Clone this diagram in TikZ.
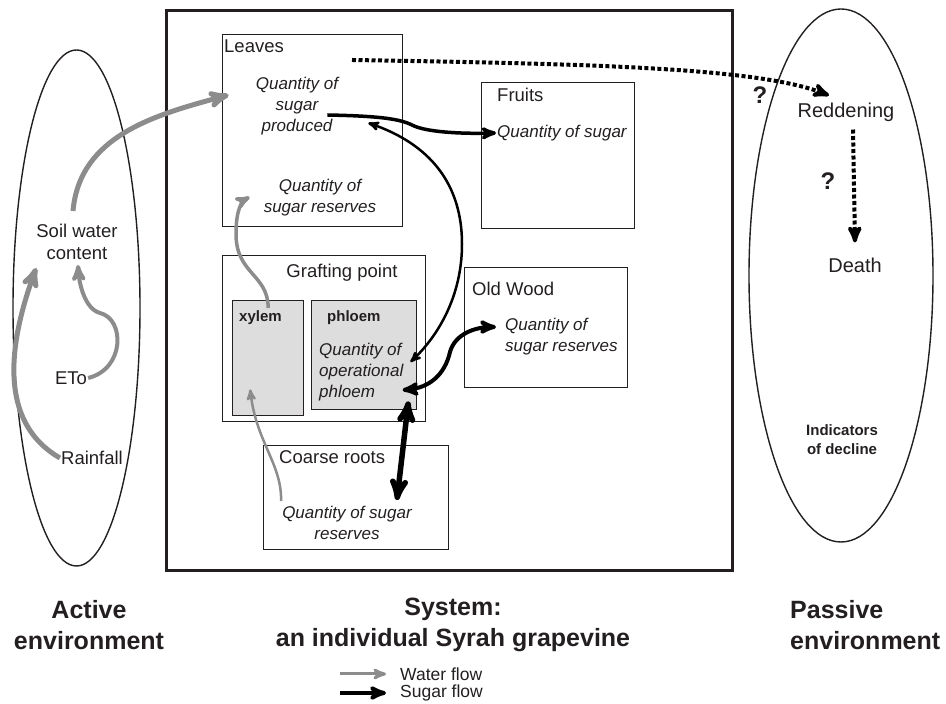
\documentclass[tikz,border=0pt]{standalone}
\usepackage{fontspec}
\setmainfont{Liberation Sans}
\usepackage{tikz}
\usetikzlibrary{ arrows, calc, positioning }
\definecolor{ink}{RGB}{35,31,32}
\definecolor{watergray}{RGB}{140,140,140}
\definecolor{tissuegray}{RGB}{221,221,221}
\tikzset{
>=stealth', % makes the arrow heads bold
box/.style={draw=ink, line width=1.4pt, inner sep=0pt, anchor=north west}, % compartments of the vine
envline/.style={draw=ink, line width=1.4pt}, % the two environments
plain/.style={font=\fontsize{18.5}{22}\selectfont, text=ink, inner sep=1pt, align=center},
qty/.style={font=\fontsize{17}{21}\selectfont\itshape, text=ink, inner sep=1pt},
tissue/.style={font=\fontsize{15}{18}\selectfont\bfseries, text=ink, inner sep=1pt},
heading/.style={font=\fontsize{25}{31}\selectfont\bfseries, text=ink, inner sep=1pt},
water/.style={->, draw=watergray, line width=#1},
sugar/.style={draw=black, line width=#1},
signal/.style={->, draw=black, line width=4pt, dash pattern=on 4pt off 2.5pt},
}

\begin{document}
\begin{tikzpicture}[x=1pt,y=1pt]
  \useasboundingbox (0,0) rectangle (946,704);

  % environments
  \draw[envline] (76.5,396) ellipse [x radius=63.5pt, y radius=258pt];
  \draw[envline] (841,428.5) ellipse [x radius=92pt, y radius=266.5pt];

  % the vine and its compartments
  \node[box, line width=3pt, minimum width=566pt, minimum height=560pt] (vine) at (165,695) {};
  \node[box, minimum width=180pt, minimum height=192pt] (leaves) at (222,670) {};
  \node[box, minimum width=153pt, minimum height=146pt] (fruits) at (481,622) {};
  \node[box, minimum width=203pt, minimum height=166pt] (graft) at (222,449) {};
  \node[box, fill=tissuegray, minimum width=71pt, minimum height=115pt] (xylembox) at (232,404) {};
  \node[box, fill=tissuegray, minimum width=105pt, minimum height=109pt] (phloembox) at (311,404) {};
  \node[box, minimum width=163pt, minimum height=120pt] (wood) at (464,437) {};
  \node[box, minimum width=185pt, minimum height=104pt] (roots) at (263,259) {};

  % texts inside the vine
  \node[plain, anchor=west] (leavestitle) at (223,658) {Leaves};
  \node[qty, align=center] (sugarprod) at (297,598) {Quantity of\\sugar\\produced};
  \node[qty, align=center] (leafres) at (320,506) {Quantity of\\sugar reserves};
  \node[plain, anchor=west] (fruitstitle) at (496,609) {Fruits};
  \node[qty, anchor=west] (fruitsugar) at (496,571) {Quantity of sugar};
  \node[plain] (grafttitle) at (342,431) {Grafting point};
  \node[tissue, anchor=west] (xylem) at (238,386) {xylem};
  \node[tissue, anchor=west] (phloem) at (326,386) {phloem};
  \node[qty, anchor=west, align=left] (operational) at (318,332) {Quantity of\\operational\\phloem};
  \node[plain, anchor=west] (woodtitle) at (471,415) {Old Wood};
  \node[qty, anchor=west, align=left] (woodres) at (504,367) {Quantity of\\sugar reserves};
  \node[plain, anchor=west] (rootstitle) at (278,247) {Coarse roots};
  \node[qty, align=center] (rootsres) at (347,181) {Quantity of sugar\\reserves};

  % active environment
  \node[plain] (soil) at (77,462) {Soil water\\content};
  \node[plain] (eto) at (71,326) {ETo};
  \node[plain] (rain) at (92,246) {Rainfall};

  % passive environment
  \node[plain, font=\fontsize{20}{24}\selectfont] (reddening) at (846,592) {Reddening};
  \node[plain, font=\fontsize{20}{24}\selectfont] (death) at (855,439) {Death};
  \node[heading, font=\fontsize{24}{28}\selectfont\bfseries] (q1) at (760,609) {?};
  \node[heading, font=\fontsize{24}{28}\selectfont\bfseries] (q2) at (828,523) {?};
  \node[tissue, align=center, font=\fontsize{15}{19}\selectfont\bfseries] (indicators) at (842,264) {Indicators\\of decline};

  % headings
  \node[heading, align=center] (active) at (89,79) {Active\\environment};
  \node[heading, align=center] (system) at (453,79) {System:\\an individual Syrah grapevine};
  \node[heading, align=left, anchor=west] (passive) at (789,79) {Passive\\environment};

  % water flows
  \draw[water=5pt] ([xshift=-4pt,yshift=12pt]soil.north) to[out=85,in=195] ([xshift=-26pt,yshift=11pt]sugarprod.west);
  \draw[water=5pt] (rain.west) to[out=150,in=-110] ([xshift=1pt,yshift=-7pt]soil.south west);
  \draw[water=4pt] (eto.east) .. controls (125,335) and (125,385) .. (100,391)
    .. controls (85,395) and (79,420) .. ([xshift=1pt,yshift=-4pt]soil.south);
  \draw[water=3.5pt] ([yshift=-8pt]xylembox.north) .. controls (268,430) and (236,430) .. (236,470)
    .. controls (236,495) and (242,503) .. ([xshift=-13pt,yshift=1pt]leafres.west);
  \draw[water=2.5pt] ([yshift=4pt]rootsres.north west) .. controls (282,240) and (256,262) .. ([xshift=-18pt,yshift=27pt]xylembox.south);

  % sugar flows
  \draw[sugar=3.5pt, ->] ([xshift=-12pt,yshift=-9pt]sugarprod.east) .. controls (380,588) and (400,585) .. (412,579)
    .. controls (425,572) and (460,570) .. (fruitsugar.west);
  \draw[sugar=2.5pt, <->] ([xshift=29pt,yshift=-17pt]sugarprod.east) .. controls (430,560) and (462,520) .. (462,460)
    .. controls (462,410) and (440,370) .. ([xshift=6pt,yshift=10pt]operational.east);
  \draw[sugar=4pt, <->] ([xshift=-2pt,yshift=-18pt]operational.east) .. controls (430,316) and (445,330) .. (450,352)
    .. controls (455,370) and (475,377) .. ([xshift=-8pt,yshift=10pt]woodres.west);
  \draw[sugar=5.5pt, <->] ([xshift=-9pt,yshift=9pt]phloembox.south east) -- ([xshift=-16pt,yshift=5pt]rootsres.north east);

  % signals of decline
  \coordinate (leafsignal) at (352,644);
  \draw[signal] (leafsignal) .. controls (600,640) and (760,636) .. ([xshift=-17pt,yshift=6pt]reddening.north);
  \draw[signal] ([xshift=7pt,yshift=-7pt]reddening.south) -- ([yshift=14pt]death.north);

  % legend
  \node[plain, anchor=west, font=\fontsize{17.5}{19}\selectfont] (waterkey) at (399,30) {Water flow};
  \node[plain, anchor=west, font=\fontsize{17.5}{19}\selectfont] (sugarkey) at (399,11) {Sugar flow};
  \coordinate (waterstart) at (340,30);
  \coordinate (sugarstart) at (340,11);
  \draw[water=3pt] (waterstart) -- ([xshift=-13pt]waterkey.west);
  \draw[sugar=4pt, ->] (sugarstart) -- ([xshift=-13pt]sugarkey.west);
\end{tikzpicture}
\end{document}
